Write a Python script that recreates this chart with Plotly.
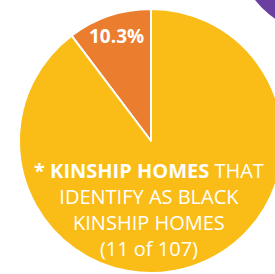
import plotly.graph_objects as go

# Data
categories = ["Black kinship homes", "Other kinship homes"]
values = [11, 96]
colors = ["#EB7D2F", "#FABC16"]
total = sum(values)

W, H = 290, 274

fig = go.Figure()
fig.add_trace(go.Pie(
    labels=categories,
    values=values,
    sort=False,
    direction="clockwise",
    rotation=-values[0] / total * 360,
    marker=dict(colors=colors, line=dict(color="white", width=2)),
    textinfo="none",
    hoverinfo="skip",
    showlegend=False,
    domain=dict(x=[19 / W, 283 / W], y=[1 / H, 265 / H]),
))

pct = values[0] / total * 100
fig.add_annotation(
    text=f"<b>{pct:.1f}%</b>",
    x=117 / W, y=(H - 36) / H, xref="paper", yref="paper",
    xanchor="center", yanchor="middle", showarrow=False,
    font=dict(family="Open Sans", size=19, color="white"),
)

fig.add_annotation(
    text=(f"<b>* KINSHIP HOMES</b> THAT<br>IDENTIFY AS BLACK<br>KINSHIP HOMES<br>"
          f"({values[0]} of {total})"),
    x=149 / W, y=(H - 209) / H, xref="paper", yref="paper",
    xanchor="center", yanchor="middle", showarrow=False, align="center",
    font=dict(family="Open Sans", size=20, color="white"),
)

# purple circle partly visible at top-right corner
fig.add_shape(
    type="circle", xref="paper", yref="paper",
    x0=234 / W, x1=426 / W, y0=(H - 36) / H, y1=(H + 156) / H,
    fillcolor="#6B3FA0", line=dict(width=0), layer="below",
)

fig.update_layout(
    width=W, height=H,
    margin=dict(l=0, r=0, t=0, b=0),
    paper_bgcolor="white", plot_bgcolor="white",
)

fig.write_html(
    "out.html",
    config={"displayModeBar": False},
    post_script="document.body.style.margin='0';document.body.style.overflow='hidden';",
)
